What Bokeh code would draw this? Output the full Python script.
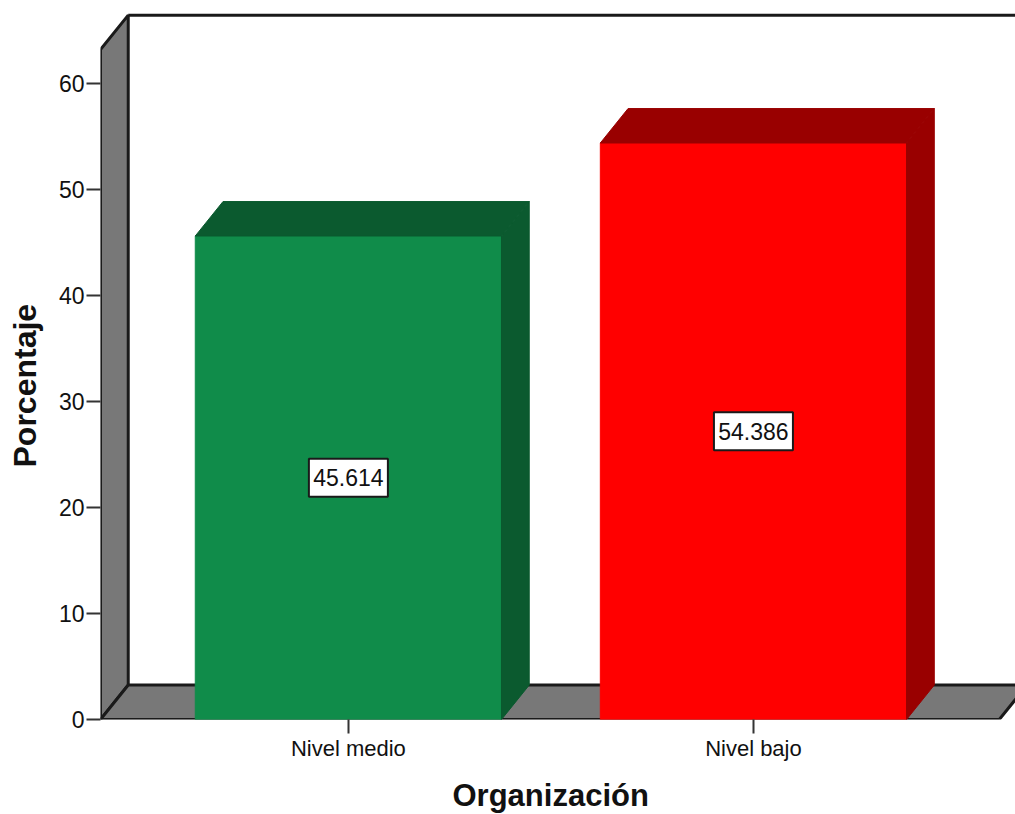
from bokeh.embed import file_html
from bokeh.models import FixedTicker, ColumnDataSource, LinearAxis, Title
from bokeh.plotting import figure
from bokeh.resources import INLINE
from bokeh.core.properties import value

# Chart content
categories = ["Nivel medio", "Nivel bajo"]
percentages = [45.614, 54.386]
front_colors = ["#108c4a", "#ff0000"]
shade_colors = ["#0b5a2f", "#990000"]
y_ticks = [0, 10, 20, 30, 40, 50, 60]
x_title = "Organización"
y_title = "Porcentaje"

# Axis extents and the 3D look of the box and bars, in data units
X_START, X_END = -0.612, 1.647
Y_START, Y_END = 0.0, 67.83
DX, DY = 0.0685, 3.25
BAR_HALF = 0.378
WALL_TOP = 63.2
FLOOR_RIGHT = 1.607
WALL_GRAY = "#787878"
EDGE = "#1a1a1a"
FONT = "Liberation Sans"

p = figure(
    width=1015, height=814, output_backend="svg", toolbar_location=None,
    x_range=(X_START, X_END), y_range=(Y_START, Y_END),
    min_border_left=100, min_border_right=0, min_border_top=0, min_border_bottom=95,
    outline_line_color=None,
)
p.grid.visible = False

# Left wall and floor of the box
p.patch([X_START, X_START + DX, X_START + DX, X_START],
        [0, DY, WALL_TOP + DY, WALL_TOP],
        fill_color=WALL_GRAY, line_color=EDGE, line_width=3)
p.patch([X_START, FLOOR_RIGHT, FLOOR_RIGHT + DX, X_START + DX],
        [0, 0, DY, DY],
        fill_color=WALL_GRAY, line_color=EDGE, line_width=3)
p.line([X_START + DX, X_END], [WALL_TOP + DY, WALL_TOP + DY], line_color=EDGE, line_width=3)

# Bars: front face, right side and top, each built from the bar's value
xs = list(range(len(categories)))
p.vbar(x=xs, top=percentages, width=2 * BAR_HALF, bottom=0,
       fill_color=front_colors, line_color=front_colors, line_width=1)
side_x = [[x + BAR_HALF, x + BAR_HALF + DX, x + BAR_HALF + DX, x + BAR_HALF] for x in xs]
side_y = [[0, DY, v + DY, v] for v in percentages]
p.patches(side_x, side_y, fill_color=shade_colors, line_color=shade_colors, line_width=1)
top_x = [[x - BAR_HALF, x + BAR_HALF, x + BAR_HALF + DX, x - BAR_HALF + DX] for x in xs]
top_y = [[v, v, v + DY, v + DY] for v in percentages]
p.patches(top_x, top_y, fill_color=shade_colors, line_color=shade_colors, line_width=1)

# Value boxes centred on each bar's front face
labels = ColumnDataSource(dict(
    x=xs,
    y=[v / 2 for v in percentages],
    text=[f"{v:.3f}" for v in percentages],
))
p.rect(x="x", y="y", width=79, height=38, width_units="screen", height_units="screen",
       source=labels, fill_color="white", line_color=EDGE, line_width=2)
p.text(x="x", y="y", text="text", source=labels, text_align="center", text_baseline="middle",
       text_font=value(FONT), text_font_size="23px", text_color="#111111")

# Axes
p.yaxis.ticker = FixedTicker(ticks=y_ticks)
p.yaxis.axis_line_color = None
p.yaxis.major_tick_in = 0
p.yaxis.major_tick_out = 14
p.yaxis.minor_tick_line_color = None
p.yaxis.major_tick_line_color = "#333333"
p.yaxis.major_tick_line_width = 2
p.yaxis.major_label_text_font = FONT
p.yaxis.major_label_text_font_size = "23px"
p.yaxis.major_label_text_color = "#111111"
p.yaxis.major_label_standoff = 2

p.xaxis.ticker = FixedTicker(ticks=xs)
p.xaxis.major_label_overrides = {i: c for i, c in enumerate(categories)}
p.xaxis.axis_line_color = None
p.xaxis.major_tick_in = 0
p.xaxis.major_tick_out = 14
p.xaxis.minor_tick_line_color = None
p.xaxis.major_tick_line_color = "#333333"
p.xaxis.major_tick_line_width = 2
p.xaxis.major_label_text_font = FONT
p.xaxis.major_label_text_font_size = "22px"
p.xaxis.major_label_text_color = "#111111"
p.xaxis.major_label_standoff = 2


def spacer_axis(gap):
    """An axis whose one tick and label are invisible, opening a gap before a title."""
    return LinearAxis(ticker=FixedTicker(ticks=[0]), major_label_overrides={0: ""},
                      major_label_standoff=0, major_label_text_font_size="1px",
                      major_label_text_color=None, axis_line_color=None,
                      major_tick_in=0, major_tick_out=gap, major_tick_line_color=None,
                      minor_tick_in=0, minor_tick_out=0, minor_tick_line_color=None)


p.add_layout(spacer_axis(12), "below")
p.add_layout(spacer_axis(13), "left")

# Axis titles sit in their own panels, offset from the frame's start so they centre on the box
p.add_layout(Title(text=x_title, align="left", offset=352, standoff=0, text_font=FONT,
                   text_font_size="31px", text_font_style="bold", text_color="#111111"), "below")
p.add_layout(Title(text=y_title, align="left", offset=252, standoff=0, text_font=FONT,
                   text_font_size="32px", text_font_style="bold", text_color="#111111"), "left")

open("out.html", "w").write(file_html(p, INLINE))
